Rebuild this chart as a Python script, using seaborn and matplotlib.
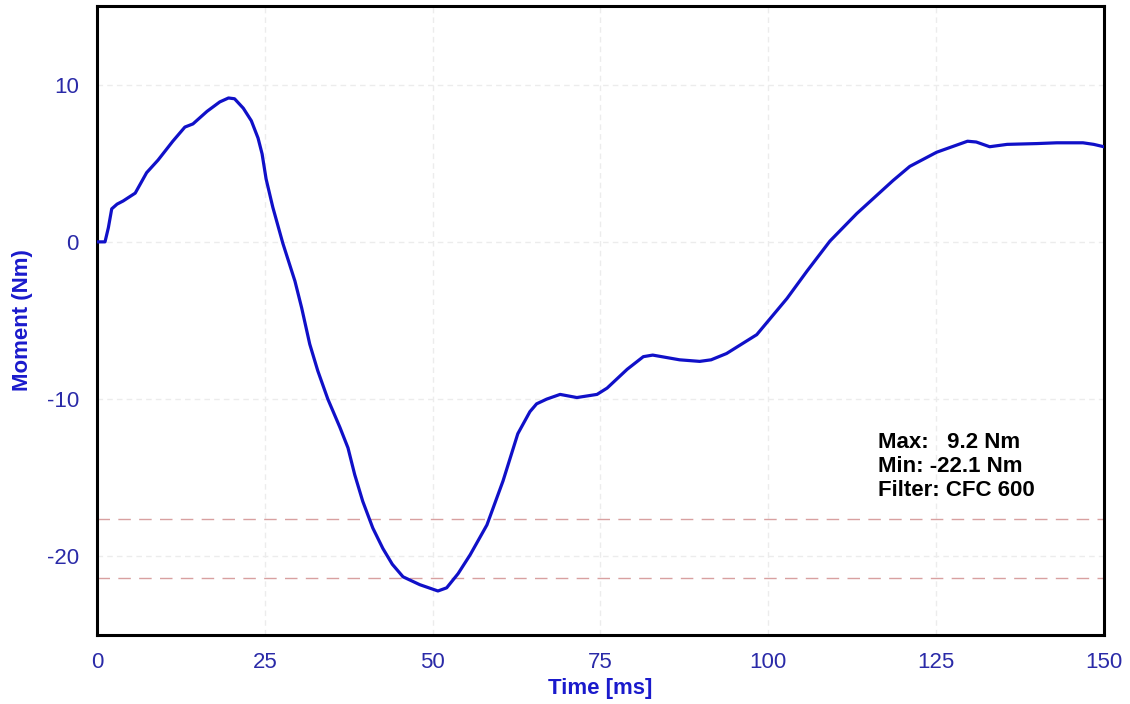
import matplotlib
matplotlib.use("Agg")
import matplotlib.pyplot as plt
import seaborn as sns
import pandas as pd
from matplotlib.ticker import MultipleLocator

time_ms = [0, 1.2, 1.7, 2.2, 3.0, 3.9, 5.7, 7.4, 9.1, 11.3, 13.1, 14.3, 16.4, 18.3, 19.6,
           20.5, 21.8, 23.0, 24.0, 24.6, 25.2, 26.2, 27.7, 29.5, 30.5, 31.7, 32.9, 34.4, 36.2,
           37.4, 38.4, 39.6, 41.1, 42.6, 44.0, 45.6, 48.1, 50.8, 52.1, 53.8, 55.6, 58.1, 60.5,
           62.7, 64.5, 65.5, 67.0, 69.0, 71.5, 74.5, 76.0, 79.0, 81.4, 82.8, 86.8, 89.8, 91.5,
           93.8, 98.3, 102.8, 105.8, 109.2, 113.2, 118.6, 121.1, 125.1, 129.7, 131.0, 133.0,
           135.6, 140.0, 143.0, 146.9, 148.5, 150.0]
moment_nm = [0.0, 0.0, 0.9, 2.1, 2.4, 2.6, 3.1, 4.4, 5.2, 6.4, 7.3, 7.5, 8.3, 8.9, 9.15,
             9.1, 8.5, 7.7, 6.6, 5.6, 4.0, 2.2, -0.1, -2.5, -4.2, -6.5, -8.2, -10.0, -11.8,
             -13.1, -14.8, -16.5, -18.2, -19.5, -20.5, -21.3, -21.8, -22.2, -22.0, -21.1, -19.9,
             -18.0, -15.2, -12.2, -10.8, -10.3, -10.0, -9.7, -9.9, -9.7, -9.3, -8.1, -7.3,
             -7.2, -7.5, -7.6, -7.5, -7.1, -5.9, -3.6, -1.85, 0.05, 1.8, 3.9, 4.8, 5.7, 6.4,
             6.35, 6.05, 6.2, 6.25, 6.3, 6.3, 6.2, 6.05]
limit_lines = [-17.6, -21.4]
stats_text = "Max:   9.2 Nm\nMin: -22.1 Nm\nFilter: CFC 600"

df = pd.DataFrame({"Time [ms]": time_ms, "Moment (Nm)": moment_nm})

sns.set_style("white")
plt.rcParams["font.family"] = ["Liberation Sans", "DejaVu Sans"]
plt.rcParams["axes.unicode_minus"] = False

label_blue = "#2a2aa8"
fig = plt.figure(figsize=(11.3, 7.04), dpi=100)
ax = fig.add_axes([0.0858, 0.098, 0.891, 0.8935])

for y in limit_lines:
    ax.axhline(y, color="#d8a0a0", lw=1.0, ls=(0, (9, 6)), zorder=1)

sns.lineplot(data=df, x="Time [ms]", y="Moment (Nm)", ax=ax, color="#1010c8", lw=2.3, zorder=3)

ax.set_xlim(0, 150)
ax.set_ylim(-25, 15)
ax.xaxis.set_major_locator(MultipleLocator(25))
ax.xaxis.set_minor_locator(MultipleLocator(5))
ax.yaxis.set_major_locator(MultipleLocator(10))
ax.yaxis.set_minor_locator(MultipleLocator(5))
ax.grid(True, which="major", color="#ececec", lw=1.0, ls=(0, (4, 3)), zorder=0)

ax.tick_params(axis="x", which="both", direction="in", length=7, width=1.2, color="black",
               labelsize=16, labelcolor=label_blue, pad=12)
ax.tick_params(axis="y", which="major", direction="inout", length=22, width=1.2, color="#555555",
               labelsize=16, labelcolor=label_blue, pad=2)
ax.tick_params(axis="y", which="minor", direction="inout", length=11, width=1.0, color="#555555")

for s in ax.spines.values():
    s.set_color("black")
    s.set_linewidth(2.2)

ax.set_xlabel("Time [ms]", fontsize=16, fontweight="bold", color="#1a1acc", labelpad=4)
ax.set_ylabel("Moment (Nm)", fontsize=16, fontweight="bold", color="#1a1acc", labelpad=10)

ax.text(0.776, 0.323, stats_text, transform=ax.transAxes, fontsize=16, fontweight="bold",
        color="black", va="top", ha="left", linespacing=1.2)

fig.savefig("out.png", dpi=100)
